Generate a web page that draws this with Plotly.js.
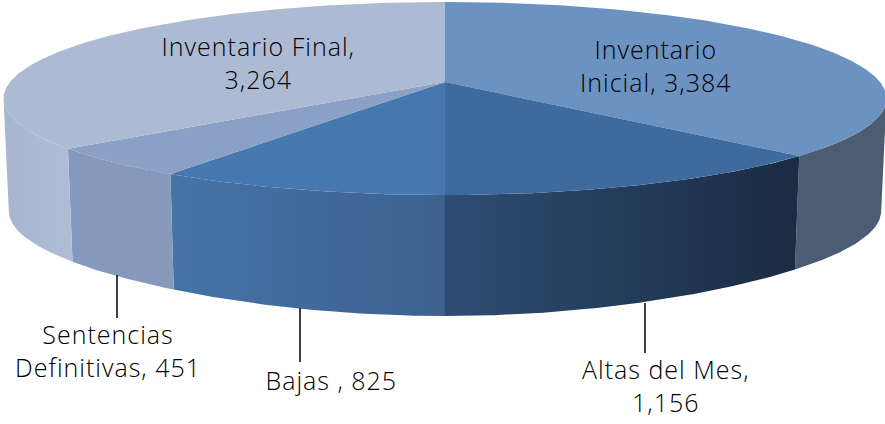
<!DOCTYPE html>
<html>
<head>
<meta charset="utf-8">
<script src="https://cdn.plot.ly/plotly-3.0.1.min.js"></script>
<style>html,body{margin:0;padding:0;background:#fff}#chart{width:885px;height:424px}#chart svg text{letter-spacing:1px}</style>
</head>
<body>
<div id="chart"></div>
<script>
const categories = ["Inventario Inicial", "Altas del Mes", "Bajas", "Sentencias Definitivas", "Inventario Final"];
const values = [3384, 1156, 825, 451, 3264];
const labels = ["Inventario<br>Inicial, 3,384", "Altas del Mes,<br>1,156", "Bajas , 825", "Sentencias<br>Definitivas, 451", "Inventario Final,<br>3,264"];
const topColors = ["#6b92c0", "#3f6a9e", "#4777af", "#8aa0c4", "#adbad3"];
const wallLeftColors = ["#4c5c72", "#2e4d73", "#4674a8", "#8499bd", "#a8b5cf"];
const wallMidColors = ["#4c5c72", "#233c5b", "#41699b", "#8699bc", "#acb9d2"];
const wallRightColors = ["#4c5c72", "#1a2b43", "#3d628f", "#8899bb", "#b0bcd5"];
const labelX = [655, 666, 331, 108, 258];
const labelY = [65, 385, 380, 350, 62];

const cx = 445, A = 435, k = 0.171, yMid = 82, yAmp = -79.66;
const rad = d => d * Math.PI / 180;
function topPt(t) {
  const c = Math.cos(rad(t)), s = Math.sin(rad(t)), w = 1 + k * c;
  return [cx + A * s / w, (yAmp * c + yMid) / w];
}
function botPt(t) {
  const c = Math.cos(rad(t)), p = topPt(t);
  return [cx + (p[0] - cx) * 0.988, p[1] + 112.5 + 8.5 * Math.pow(c, 6)];
}
function arc(fn, a, b) {
  const n = Math.max(2, Math.ceil(Math.abs(b - a) * 2)), out = [];
  for (let i = 0; i <= n; i++) out.push(fn(a + (b - a) * i / n));
  return out;
}
const total = values.reduce((a, b) => a + b, 0);
let acc = 0;
const spans = values.map(v => { const s = [acc, acc + v / total * 360]; acc = s[1]; return s; });

const traces = [];
spans.forEach((sp, i) => {
  const a = Math.max(sp[0], 99.8), b = Math.min(sp[1], 260.2);
  if (b <= a) return;
  const pts = arc(topPt, a, b).concat(arc(botPt, b, a));
  pts.push(pts[0]);
  const xs = pts.map(p => p[0]);
  traces.push({
    type: "scatter", mode: "lines", x: xs, y: pts.map(p => p[1]),
    fill: "toself", line: {width: 0}, hoverinfo: "skip", showlegend: false,
    fillcolor: wallLeftColors[i],
    fillgradient: {type: "horizontal", start: Math.min(...xs), stop: Math.max(...xs),
      colorscale: [[0, wallLeftColors[i]], [0.5, wallMidColors[i]], [1, wallRightColors[i]]]}
  });
});
spans.forEach((sp, i) => {
  const pts = [[cx, yMid]].concat(arc(topPt, sp[0], sp[1]));
  pts.push(pts[0]);
  traces.push({
    type: "scatter", mode: "lines", name: categories[i],
    x: pts.map(p => p[0]), y: pts.map(p => p[1]),
    fill: "toself", fillcolor: topColors[i], line: {width: 0},
    hoverinfo: "skip", showlegend: false
  });
});

const leaders = [[117, 275, 318], [300, 308, 362], [645, 303, 353]];
const layout = {
  width: 885, height: 424,
  margin: {l: 0, r: 0, t: 0, b: 0},
  paper_bgcolor: "#fff", plot_bgcolor: "#fff",
  showlegend: false,
  xaxis: {range: [0, 885], visible: false, fixedrange: true},
  yaxis: {range: [424, 0], visible: false, fixedrange: true},
  shapes: leaders.map(l => ({type: "line", xref: "x", yref: "y", x0: l[0], x1: l[0], y0: l[1], y1: l[2],
    line: {color: "#000", width: 1.5}})),
  annotations: labels.map((t, i) => ({
    text: t, x: labelX[i], y: labelY[i], xref: "x", yref: "y",
    showarrow: false, align: "center", xanchor: "center", yanchor: "middle",
    font: {family: "Open Sans, sans-serif", size: 25, weight: 300, color: "#000"}
  }))
};
Plotly.newPlot("chart", traces, layout, {displayModeBar: false, staticPlot: true});
</script>
</body>
</html>
